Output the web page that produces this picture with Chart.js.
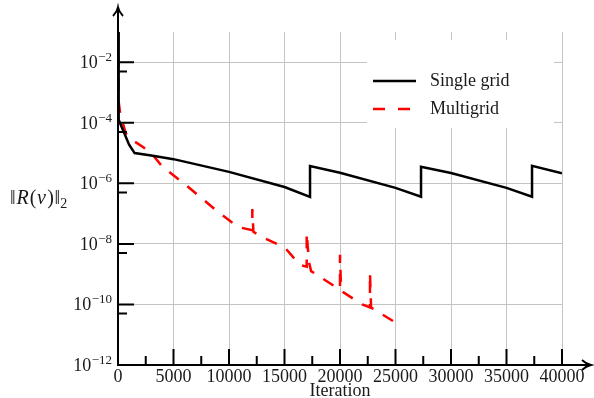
<!doctype html>
<html lang="en">
<head>
<meta charset="utf-8">
<title>Residual history</title>
<script src="https://cdn.jsdelivr.net/npm/chart.js"></script>
<style>
  html, body { margin: 0; padding: 0; background: #fff; }
</style>
</head>
<body>
<canvas id="residualChart" width="594" height="398"></canvas>
<script>
  // residual norm, stored as log10 of the value
  const singleIters = [0, 60, 1000, 1500, 3000, 5000, 10000, 15000, 17300, 17300, 20000, 25000, 27300, 27300, 30000, 35000, 37300, 37300, 40000];
  const singleLog = [-1, -3.9, -4.72, -5.0, -5.08, -5.2, -5.62, -6.12, -6.45, -5.43, -5.65, -6.15, -6.44, -5.45, -5.66, -6.15, -6.44, -5.42, -5.67];

  const multiIters = [0, 60, 200, 700, 1200, 2250, 3000, 4000, 6000, 9000, 10800, 12100, 12100, 12200, 12970, 15050, 16400, 17000, 17000, 17200, 17400, 19300, 20000, 20000, 20100, 22000, 22700, 22700, 22800, 25000];
  const multiLog = [-1, -3.3, -3.7, -4.35, -4.55, -4.8, -5.0, -5.45, -6.02, -6.94, -7.44, -7.55, -6.85, -7.6, -7.77, -8.13, -8.7, -8.75, -7.63, -8.6, -8.9, -9.35, -9.5, -8.36, -9.55, -10.0, -10.1, -8.95, -10.1, -10.6];

  const xTicks = [0, 5000, 10000, 15000, 20000, 25000, 30000, 35000, 40000];
  const xMinorTicks = [2500, 7500, 12500, 17500, 22500, 27500, 32500, 37500];
  const yTickExps = [-12, -10, -8, -6, -4, -2];
  const yMinorTicks = [5e-3, 5e-5, 5e-7, 5e-9, 5e-11];

  const serif = "'Liberation Serif', 'DejaVu Serif', serif";
  const ink = '#1a1a1a';

  function toPoints(iters, logs) {
    return iters.map((x, i) => ({x: x, y: Math.pow(10, logs[i])}));
  }

  // axes with arrows, inner tick marks, power labels, y label and legend
  const decorPlugin = {
    id: 'decor',
    afterDraw(chart) {
      const ctx = chart.ctx;
      const xs = chart.scales.x;
      const ys = chart.scales.y;
      const area = chart.chartArea;
      const x0 = area.left, y0 = area.bottom;
      ctx.save();

      // legend box
      ctx.fillStyle = '#fff';
      ctx.fillRect(367, 40, 187, 88);
      ctx.lineWidth = 2.5;
      ctx.strokeStyle = '#000';
      ctx.beginPath(); ctx.moveTo(373, 81); ctx.lineTo(416, 81); ctx.stroke();
      ctx.strokeStyle = '#ff0000';
      ctx.setLineDash([12, 13]);
      ctx.beginPath(); ctx.moveTo(373, 109); ctx.lineTo(416, 109); ctx.stroke();
      ctx.setLineDash([]);
      ctx.fillStyle = ink;
      ctx.font = '18px ' + serif;
      ctx.textBaseline = 'middle';
      ctx.textAlign = 'left';
      ctx.fillText('Single grid', 430, 81);
      ctx.fillText('Multigrid', 430, 109);

      // tick marks
      ctx.strokeStyle = '#000';
      ctx.lineWidth = 2;
      ctx.beginPath();
      xTicks.forEach(v => { const p = xs.getPixelForValue(v); ctx.moveTo(p, y0); ctx.lineTo(p, y0 - 16); });
      xMinorTicks.forEach(v => { const p = xs.getPixelForValue(v); ctx.moveTo(p, y0); ctx.lineTo(p, y0 - 9); });
      yTickExps.forEach(e => { const p = ys.getPixelForValue(Math.pow(10, e)); ctx.moveTo(x0, p); ctx.lineTo(x0 + 16, p); });
      yMinorTicks.forEach(v => { const p = ys.getPixelForValue(v); ctx.moveTo(x0, p); ctx.lineTo(x0 + 9, p); });
      ctx.stroke();

      // axis lines
      ctx.beginPath();
      ctx.moveTo(x0, y0 + 1); ctx.lineTo(x0, 9);
      ctx.moveTo(x0 - 1, y0); ctx.lineTo(589, y0);
      ctx.stroke();
      // arrow heads
      ctx.lineWidth = 1.8;
      ctx.beginPath();
      ctx.moveTo(x0 - 5, 16); ctx.quadraticCurveTo(x0 - 1, 12, x0, 7); ctx.quadraticCurveTo(x0 + 1, 12, x0 + 5, 16);
      ctx.moveTo(582, y0 - 5); ctx.quadraticCurveTo(586, y0 - 1, 591, y0); ctx.quadraticCurveTo(586, y0 + 1, 582, y0 + 5);
      ctx.stroke();

      // y tick labels 10^e
      ctx.fillStyle = ink;
      ctx.textBaseline = 'alphabetic';
      ctx.textAlign = 'left';
      yTickExps.forEach(e => {
        const p = ys.getPixelForValue(Math.pow(10, e));
        const expText = '\u2212' + Math.abs(e);
        ctx.font = '13px ' + serif;
        const ew = ctx.measureText(expText).width;
        const ex = x0 - 6 - ew;
        ctx.fillText(expText, ex, p - 1);
        ctx.font = '18px ' + serif;
        const bw = ctx.measureText('10').width;
        ctx.fillText('10', ex - bw - 0.5, p + 6);
      });

      // y axis label  ||R(v)||_2
      const labelY = (area.top + area.bottom) / 2;
      ctx.textBaseline = 'middle';
      let x = 10;
      const parts = [['\u2016', 'normal', 1], ['R', 'italic', 1], ['(', 'normal', 0.5], ['v', 'italic', 1.5], [')', 'normal', 0.5], ['\u2016', 'normal', 0]];
      parts.forEach(([t, st, gap]) => {
        ctx.font = (st === 'italic' ? 'italic ' : '') + '20px ' + serif;
        ctx.fillText(t, x, labelY);
        x += ctx.measureText(t).width + gap;
      });
      ctx.font = '14px ' + serif;
      ctx.fillText('2', x, labelY + 6);

      ctx.restore();
    }
  };

  const ctx = document.getElementById('residualChart').getContext('2d');
  new Chart(ctx, {
    type: 'line',
    data: {
      datasets: [
        {
          label: 'Single grid',
          data: toPoints(singleIters, singleLog),
          borderColor: '#000',
          borderWidth: 2.5,
          pointRadius: 0,
          fill: false,
          tension: 0
        },
        {
          label: 'Multigrid',
          data: toPoints(multiIters, multiLog),
          borderColor: '#ff0000',
          borderWidth: 2.5,
          borderDash: [12, 11],
          pointRadius: 0,
          fill: false,
          tension: 0
        }
      ]
    },
    options: {
      responsive: false,
      animation: false,
      devicePixelRatio: 1,
      layout: { padding: { top: 32, right: 32, left: 0, bottom: 0 } },
      plugins: { legend: { display: false }, tooltip: { enabled: false } },
      scales: {
        x: {
          type: 'linear',
          min: 0,
          max: 40000,
          afterBuildTicks: s => { s.ticks = xTicks.map(v => ({value: v})); },
          afterFit: s => { s.height = 33; },
          ticks: {
            color: ink,
            font: { family: serif, size: 18 },
            padding: 1,
            maxRotation: 0,
            autoSkip: false,
            callback: v => String(v)
          },
          grid: { color: '#c4c4c4', lineWidth: 1, drawTicks: false },
          border: { display: false },
          title: { display: true, text: 'Iteration', color: ink, font: { family: serif, size: 18, lineHeight: 0.8 }, padding: 0 }
        },
        y: {
          type: 'logarithmic',
          min: 1e-12,
          max: 1e-1,
          afterBuildTicks: s => { s.ticks = yTickExps.map(e => ({value: Math.pow(10, e)})); },
          afterFit: s => { s.width = 118; },
          ticks: { display: false },
          grid: { color: '#c4c4c4', lineWidth: 1, drawTicks: false },
          border: { display: false }
        }
      }
    },
    plugins: [decorPlugin]
  });
</script>
</body>
</html>
